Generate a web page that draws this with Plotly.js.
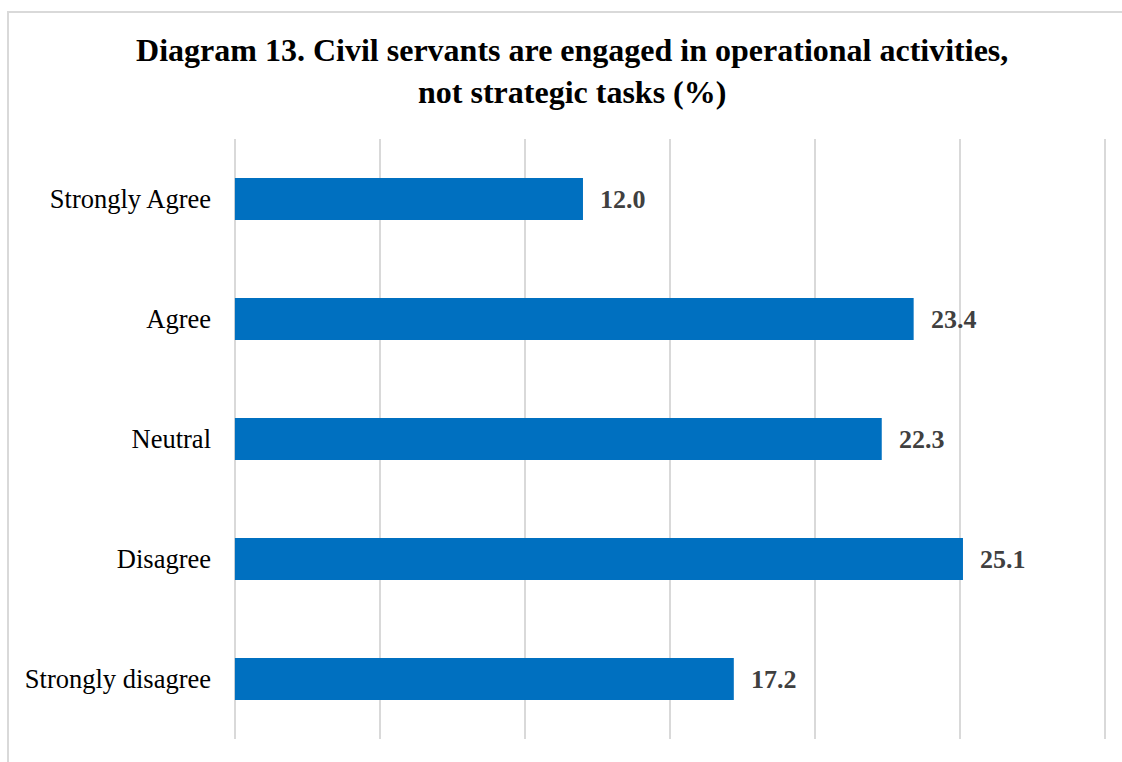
<!DOCTYPE html>
<html>
<head>
<meta charset="utf-8">
<script src="https://cdn.plot.ly/plotly-3.0.1.min.js"></script>
<style>
html,body{margin:0;padding:0;background:#fff;}
#wrap{position:relative;width:1122px;height:762px;overflow:hidden;}
#frame{position:absolute;left:7px;top:11px;width:1140px;height:780px;border:2px solid #d9d9d9;box-sizing:border-box;pointer-events:none;}
#chart{position:absolute;left:0;top:0;width:1122px;height:762px;}
</style>
</head>
<body>
<div id="wrap">
<div id="chart"></div>
<div id="frame"></div>
</div>
<script>
var categories = ["Strongly Agree", "Agree", "Neutral", "Disagree", "Strongly disagree"];
var values = [12.0, 23.4, 22.3, 25.1, 17.2];
var valueLabels = ["12.0", "23.4", "22.3", "25.1", "17.2"];
var titleText = "<b>Diagram 13. Civil servants are engaged in operational activities,<br>not strategic tasks (%)</b>";

var trace = {
  type: "bar",
  orientation: "h",
  x: values,
  y: categories,
  width: 0.35,
  marker: {color: "#0070C0"},
  hoverinfo: "x+y"
};

var annotations = values.map(function(v, i){
  return {
    x: v, y: categories[i], xref: "x", yref: "y",
    text: "<b>" + valueLabels[i] + "</b>",
    showarrow: false, xanchor: "left", yanchor: "middle", xshift: 15,
    font: {family: "Liberation Serif, Times New Roman, serif", size: 26, color: "#404040"}
  };
});

var layout = {
  width: 1122, height: 762,
  margin: {l: 232, r: 14, t: 139, b: 23, pad: 0},
  paper_bgcolor: "rgba(0,0,0,0)",
  plot_bgcolor: "#fff",
  showlegend: false,
  title: {
    text: titleText,
    x: 0.51, xref: "container", xanchor: "center",
    y: 0.92, yref: "container", yanchor: "top",
    font: {family: "Liberation Serif, Times New Roman, serif", size: 32, color: "#000"}
  },
  xaxis: {
    range: [-0.1, 30.1], tick0: 0, dtick: 5,
    showgrid: true, gridcolor: "#d9d9d9", gridwidth: 1.5,
    zeroline: false, showticklabels: false, showline: false, ticks: ""
  },
  yaxis: {
    autorange: "reversed",
    showgrid: false, zeroline: false, showline: false, ticks: "",
    ticklabelstandoff: 20,
    tickfont: {family: "Liberation Serif, Times New Roman, serif", size: 26.5, color: "#000"}
  },
  annotations: annotations
};

Plotly.newPlot("chart", [trace], layout, {displayModeBar: false, staticPlot: true});
</script>
</body>
</html>
